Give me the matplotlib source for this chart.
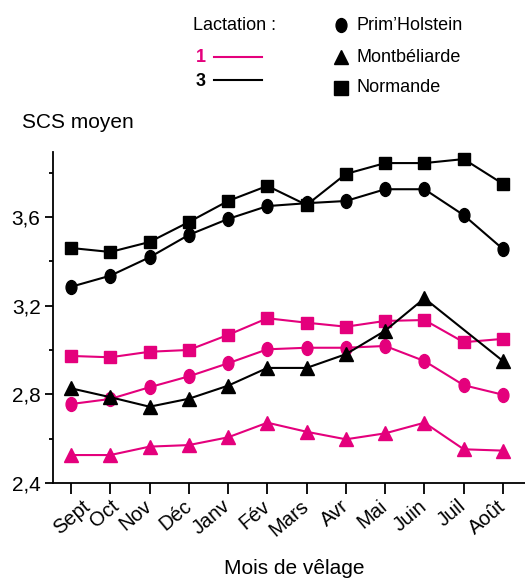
import numpy as np
import matplotlib
matplotlib.use("Agg")
import matplotlib.pyplot as plt
from matplotlib.path import Path
from matplotlib.lines import Line2D
import matplotlib.transforms as mtransforms

plt.rcParams['font.family'] = ['Liberation Sans', 'DejaVu Sans']

# mois de vêlage
mois = ['Sept', 'Oct', 'Nov', 'Déc', 'Janv', 'Fév', 'Mars', 'Avr', 'Mai', 'Juin', 'Juil', 'Août']

# lactation 3 (noir)
holstein_3 = [3.285, 3.335, 3.418, 3.519, 3.591, 3.649, 3.662, 3.672, 3.725, 3.725, 3.608, 3.455]
montbel_3 = [2.827, 2.787, 2.744, 2.780, 2.839, 2.919, 2.919, 2.981, 3.087, 3.233, np.nan, 2.950]
normande_3 = [3.460, 3.442, 3.487, 3.577, 3.672, 3.740, 3.654, 3.794, 3.843, 3.843, 3.861, 3.749]

# lactation 1 (rose)
holstein_1 = [2.756, 2.779, 2.832, 2.881, 2.940, 3.003, 3.010, 3.010, 3.018, 2.950, 2.841, 2.798]
montbel_1 = [2.526, 2.526, 2.564, 2.571, 2.606, 2.672, 2.631, 2.597, 2.624, 2.672, 2.552, 2.546]
normande_1 = [2.973, 2.967, 2.992, 3.000, 3.068, 3.143, 3.123, 3.105, 3.131, 3.135, 3.035, 3.050]

rose = '#E4007C'

# marqueur rond un peu ovale comme sur l'original
cerc = Path.unit_circle()
ovale = Path(cerc.vertices * np.array([0.78, 1.0]), cerc.codes)

fig = plt.figure(figsize=(5.25, 5.81), dpi=100)
ax = fig.add_axes([0.101, 0.1687, 0.899, 0.5697])

x = np.arange(len(mois))


def trace(vals, couleur, marker, ms):
    v = np.array(vals, dtype=float)
    ok = ~np.isnan(v)
    ax.plot(x[ok], v[ok], color=couleur, lw=1.5, marker=marker, ms=ms,
            mfc=couleur, mec=couleur, clip_on=False)


trace(montbel_1, rose, '^', 9.5)
trace(holstein_1, rose, ovale, 10)
trace(normande_1, rose, 's', 9)
trace(montbel_3, 'black', '^', 9.5)
trace(holstein_3, 'black', ovale, 10)
trace(normande_3, 'black', 's', 9)

ax.set_xlim(-0.458, 11.56)
ax.set_ylim(2.4, 3.893)
ax.spines['top'].set_visible(False)
ax.spines['right'].set_visible(False)
ax.spines['left'].set_linewidth(1.3)
ax.spines['bottom'].set_linewidth(1.3)

ax.set_yticks([2.4, 2.8, 3.2, 3.6])
ax.set_yticklabels(['2,4', '2,8', '3,2', '3,6'])
ax.set_yticks([2.6, 3.0, 3.4, 3.8], minor=True)
ax.tick_params(axis='y', which='major', length=6, width=1.3, labelsize=15, pad=3)
ax.tick_params(axis='y', which='minor', length=3, width=1.3)

ax.set_xticks(x)
ax.set_xticklabels(mois, rotation=40, ha='right', va='center', rotation_mode='anchor')
ax.tick_params(axis='x', length=8, width=1.3, labelsize=14.5, pad=7)

# petits décalages des premières étiquettes
for lab, dx in zip(ax.get_xticklabels()[:2], [17, 6]):
    lab.set_transform(lab.get_transform() + mtransforms.ScaledTranslation(dx / 100, 0, fig.dpi_scale_trans))

fig.text(22 / 525, 1 - 123 / 581, 'SCS moyen', fontsize=15, ha='left', va='center')
fig.text(294 / 525, 1 - 568 / 581, 'Mois de vêlage', fontsize=15, ha='center', va='center')

# légende
H, W = 581, 525
fig.text(193 / W, 1 - 26 / H, 'Lactation :', fontsize=13, ha='left', va='center')
fig.text(196 / W, 1 - 57 / H, '1', fontsize=13, fontweight='bold', color=rose, ha='left', va='center')
fig.text(196 / W, 1 - 81 / H, '3', fontsize=13, fontweight='bold', color='black', ha='left', va='center')
fig.add_artist(Line2D([214 / W, 262 / W], [1 - 57 / H, 1 - 57 / H], color=rose, lw=1.5, transform=fig.transFigure))
fig.add_artist(Line2D([214 / W, 262 / W], [1 - 80 / H, 1 - 80 / H], color='black', lw=1.5, transform=fig.transFigure))

races = ['Prim\u2019Holstein', 'Montbéliarde', 'Normande']
marqueurs = [ovale, '^', 's']
ys = [25, 57, 88]
for nom, m, yy in zip(races, marqueurs, ys):
    fig.add_artist(Line2D([341 / W], [1 - yy / H], marker=m, ms=10 if m is ovale else 9.5,
                          color='black', lw=0, transform=fig.transFigure))
    fig.text(357 / W, 1 - yy / H, nom, fontsize=13, ha='left', va='center')

fig.savefig('out.png', dpi=100)
